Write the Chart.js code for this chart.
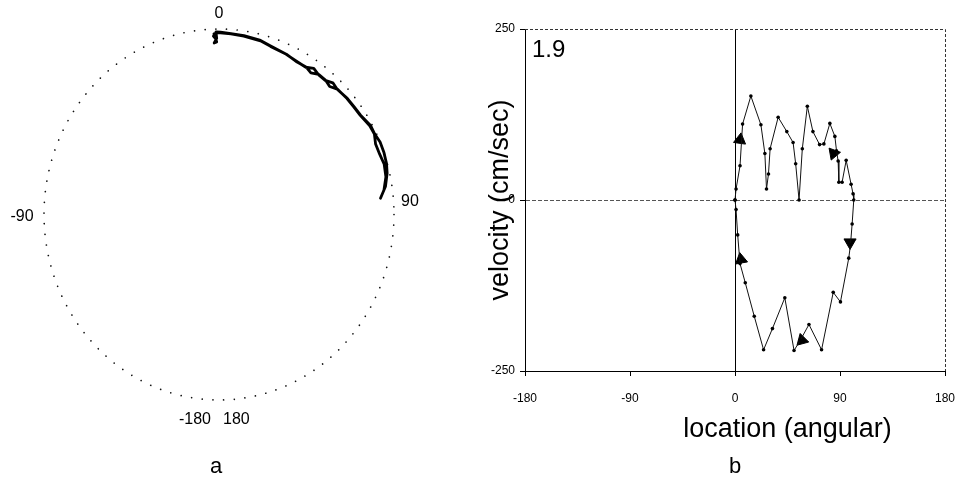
<!DOCTYPE html>
<html>
<head>
<meta charset="utf-8">
<title>Location and velocity</title>
<script src="https://cdn.jsdelivr.net/npm/chart.js@4.4.1/dist/chart.umd.min.js"></script>
<style>
  html, body { margin: 0; padding: 0; background: #fff; }
  #wrap { position: relative; width: 961px; height: 480px; }
  #polar { position: absolute; left: 0; top: 0; width: 480px; height: 480px; }
  #phase { position: absolute; left: 480px; top: 0; width: 481px; height: 480px; }
</style>
</head>
<body>
<div id="wrap">
  <canvas id="polar" width="480" height="480"></canvas>
  <canvas id="phase" width="481" height="480"></canvas>
</div>
<script>
const FONT = "'Liberation Sans', Arial, Helvetica, sans-serif";

// Panel a: path on the circle (angle in degrees, clockwise from top; radius relative to circle)
const pathAngle = [-1.7, -0.8, -1.7, -0.8, -1.0, 0.5, 4, 8.4, 14.2, 18, 24, 28.5, 32, 34.5, 37, 40, 42.5, 45, 49.5, 53, 56.5, 61, 64, 67, 70.5, 74, 77, 81, 84.6,
                   82, 78, 74, 70.5, 67, 64, 61, 56.5, 53, 49.5, 45, 42.5, 40, 37, 34.5, 32, 28.5, 24, 18, 14.2, 8.4, 4, 0.5, -1.0, -1.9, -1.2];
const pathRadius = [0.975, 0.93, 0.925, 0.95, 0.985, 0.983, 0.978, 0.975, 0.968, 0.955, 0.945, 0.937, 0.936, 0.956, 0.944, 0.944, 0.963, 0.955, 0.964, 0.966, 0.970, 0.99, 0.99, 1.0, 1.0, 0.996, 0.986, 0.963, 0.927,
                    0.952, 0.975, 0.982, 0.974, 0.972, 0.988, 0.985, 0.968, 0.964, 0.962, 0.956, 0.936, 0.946, 0.946, 0.927, 0.938, 0.935, 0.946, 0.953, 0.966, 0.972, 0.976, 0.979, 0.98, 0.962, 0.948];
const polarTicks = ['0', '90', '-90', '-180', '180'];

// Panel b: phase plot
const locB = [0, 0.9, 4.3, 6.5, 13.6, 22.2, 25.6, 27, 28.7, 30.1, 37, 44.4, 49.8, 52, 54.9, 57.7, 62, 66.8, 72.5, 76.2, 81.3, 85.6, 87, 88.4, 89, 91.8, 95.3, 99.5, 101.2, 101.8,
              100.4, 99, 97.5, 90.4, 84.2, 74.2, 63.4, 56, 50.6, 42.7, 32.1, 24.5, 16.5, 8.8, 4.3, 2.3, 0.9, 0];
const velB = [0, 16, 50, 111, 152, 110, 68, 16, 38, 75, 121, 100, 84, 53, 0, 75, 137, 100, 81, 82, 112, 93, 72, 57, 26, 26, 58, 23, 9, 0,
              -35, -65, -85, -149, -135, -219, -182, -205, -220, -143, -188, -219, -170, -121, -93, -51, -14, 0];
const arrowLoc = [4.3, 84.5, 98.6, 57.4, 5.1];
const arrowVel = [88, 68, -62, -205, -87];
const arrowDir = [8, 200, 180, -15, -10];
const locTicks = [-180, -90, 0, 90, 180];
const velTicks = [-250, 0, 250];
const panelNote = '1.9';
const xTitle = 'location (angular)';
const yTitle = 'velocity (cm/sec)';

/**
 * Panel a - dotted circle with the path drawn on it
 */
const pathPoints = pathAngle.map((a, i) => {
    const t = a * Math.PI / 180;
    return { x: pathRadius[i] * Math.sin(t), y: pathRadius[i] * Math.cos(t) };
});

const polarDecor = {
    id: 'polarDecor',
    beforeDatasetsDraw(chart) {
        const { ctx, scales: { x, y } } = chart;
        const cx = x.getPixelForValue(0);
        const cy = y.getPixelForValue(0);
        const rx = x.getPixelForValue(1) - cx;
        const ry = cy - y.getPixelForValue(1);
        ctx.save();
        ctx.strokeStyle = '#111';
        ctx.lineWidth = 1.7;
        ctx.lineCap = 'round';
        ctx.setLineDash([0.01, 10.7]);
        ctx.beginPath();
        ctx.ellipse(cx, cy, rx, ry, 0, 0, Math.PI * 2);
        ctx.stroke();
        ctx.restore();
    },
    afterDraw(chart) {
        const { ctx, scales: { x, y } } = chart;
        const cx = x.getPixelForValue(0);
        const cy = y.getPixelForValue(0);
        const left = x.getPixelForValue(-1);
        const right = x.getPixelForValue(1);
        const top = y.getPixelForValue(1);
        const bottom = y.getPixelForValue(-1);
        ctx.save();
        ctx.fillStyle = '#000';
        ctx.font = '16px ' + FONT;
        ctx.textBaseline = 'middle';
        ctx.textAlign = 'center';
        ctx.fillText(polarTicks[0], cx, top - 15);
        ctx.fillText(polarTicks[1], right + 16, cy - 13);
        ctx.fillText(polarTicks[2], left - 22, cy + 2);
        ctx.textAlign = 'right';
        ctx.fillText(polarTicks[3], cx - 8, bottom + 20);
        ctx.textAlign = 'left';
        ctx.fillText(polarTicks[4], cx + 4, bottom + 20);
        ctx.textAlign = 'center';
        ctx.font = '22px ' + FONT;
        ctx.fillText('a', cx - 3, 467);
        ctx.restore();
    }
};

new Chart(document.getElementById('polar'), {
    type: 'scatter',
    data: {
        datasets: [{
            data: pathPoints,
            showLine: true,
            borderColor: '#000',
            borderWidth: 2.8,
            borderJoinStyle: 'round',
            borderCapStyle: 'round',
            pointRadius: 0,
            tension: 0
        }]
    },
    options: {
        responsive: false,
        animation: false,
        layout: { padding: { left: 44, right: 86, top: 29, bottom: 80 } },
        plugins: { legend: { display: false }, tooltip: { enabled: false } },
        scales: {
            x: { type: 'linear', min: -1, max: 1, display: false },
            y: { type: 'linear', min: -1, max: 1, display: false }
        }
    },
    plugins: [polarDecor]
});

/**
 * Panel b - velocity against location
 */
const phaseDecor = {
    id: 'phaseDecor',
    afterDraw(chart) {
        const { ctx, chartArea: area, scales: { x } } = chart;
        ctx.save();
        // dashed top and right edges of the frame
        ctx.strokeStyle = '#333';
        ctx.lineWidth = 1;
        ctx.setLineDash([3, 2]);
        ctx.beginPath();
        ctx.moveTo(area.left, area.top + 0.5);
        ctx.lineTo(area.right + 0.5, area.top + 0.5);
        ctx.lineTo(area.right + 0.5, area.bottom);
        ctx.stroke();
        ctx.setLineDash([]);
        ctx.fillStyle = '#000';
        ctx.textBaseline = 'alphabetic';
        ctx.textAlign = 'left';
        ctx.font = '24px ' + FONT;
        ctx.fillText(panelNote, area.left + 7, area.top + 28);
        ctx.textAlign = 'center';
        ctx.textBaseline = 'middle';
        ctx.font = '27px ' + FONT;
        ctx.fillText(xTitle, x.getPixelForValue(45), 430);
        ctx.font = '22px ' + FONT;
        ctx.fillText('b', x.getPixelForValue(0), 467);
        ctx.restore();
    }
};

const phasePoints = locB.map((v, i) => ({ x: v, y: velB[i] }));
const arrowPoints = arrowLoc.map((v, i) => ({ x: v, y: arrowVel[i] }));

new Chart(document.getElementById('phase'), {
    type: 'scatter',
    data: {
        datasets: [{
            data: phasePoints,
            showLine: true,
            borderColor: '#111',
            borderWidth: 1,
            pointRadius: 1.8,
            pointBackgroundColor: '#000',
            pointBorderWidth: 0,
            tension: 0
        }, {
            data: arrowPoints,
            showLine: false,
            pointStyle: 'triangle',
            pointRotation: arrowDir,
            pointRadius: 7,
            pointBackgroundColor: '#000',
            pointBorderColor: '#000',
            pointBorderWidth: 1
        }]
    },
    options: {
        responsive: false,
        animation: false,
        layout: { padding: { left: 0, right: 16, top: 29, bottom: 0 } },
        plugins: { legend: { display: false }, tooltip: { enabled: false } },
        scales: {
            x: {
                type: 'linear',
                min: locTicks[0],
                max: locTicks[locTicks.length - 1],
                afterBuildTicks: (scale) => { scale.ticks = locTicks.map(v => ({ value: v })); },
                afterFit: (scale) => {
                    scale.height = 109;
                    scale.paddingLeft = 0;
                    scale.paddingRight = 0;
                },
                grid: {
                    color: (c) => (c.tick && c.tick.value === 0) ? '#000' : 'rgba(0,0,0,0)',
                    tickColor: '#000',
                    tickLength: 5
                },
                border: { color: '#000', width: 1 },
                ticks: {
                    color: '#000',
                    padding: 15,
                    maxRotation: 0,
                    font: { size: 12, family: FONT }
                }
            },
            y: {
                type: 'linear',
                min: velTicks[0],
                max: velTicks[velTicks.length - 1],
                afterBuildTicks: (scale) => { scale.ticks = velTicks.map(v => ({ value: v })); },
                afterFit: (scale) => {
                    scale.width = 45;
                    scale.paddingTop = 0;
                    scale.paddingBottom = 0;
                },
                grid: {
                    color: (c) => (c.tick && c.tick.value === 0) ? '#555' : 'rgba(0,0,0,0)',
                    tickColor: '#000',
                    tickLength: 5
                },
                border: {
                    color: '#000',
                    width: 1,
                    dash: (c) => (c.tick && c.tick.value === 0) ? [4, 2] : []
                },
                ticks: {
                    color: '#000',
                    padding: 5,
                    font: { size: 12, family: FONT }
                },
                title: {
                    display: true,
                    text: yTitle,
                    color: '#000',
                    padding: { top: 4, bottom: 0 },
                    font: { size: 27, family: FONT }
                }
            }
        }
    },
    plugins: [phaseDecor]
});
</script>
</body>
</html>
